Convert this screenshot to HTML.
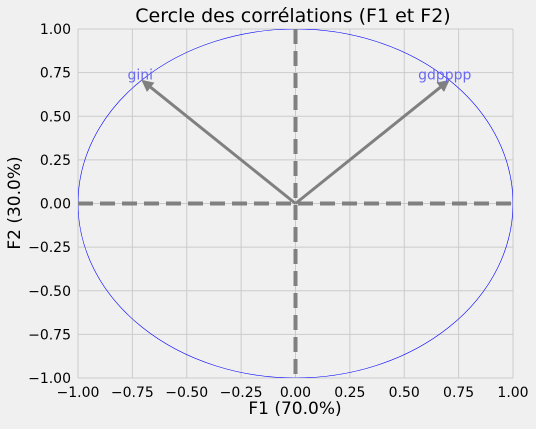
<!DOCTYPE html>
<html><head><meta charset="utf-8"><style>
html,body{margin:0;padding:0;background:#f0f0f0;}
svg text{font-family:"DejaVu Sans","Liberation Sans",sans-serif;}
</style></head><body>
<svg id="chart" width="536" height="424" xmlns="http://www.w3.org/2000/svg">
<rect width="536" height="424" fill="#f0f0f0"/>
<defs><clipPath id="clip"><rect x="78" y="29" width="435" height="349"/></clipPath>
<marker id="ah" viewBox="0 0 10 10" refX="8" refY="5" markerWidth="4" markerHeight="4" orient="auto"><path d="M0,0 L10,5 L0,10 z" fill="#808080"/></marker></defs>
<g id="grid"></g>
<g id="ticks"></g>
<g clip-path="url(#clip)" id="plot"></g>
<text x="293" y="22" font-size="19" text-anchor="middle" fill="#000">Cercle des corrélations (F1 et F2)</text>
<text x="295" y="414" font-size="17" text-anchor="middle" fill="#000">F1 (70.0%)</text>
<text x="20" y="203" font-size="17" text-anchor="middle" fill="#000" transform="rotate(-90 20 203)">F2 (30.0%)</text>
</svg>
<script>
const ticks=[-1,-0.75,-0.5,-0.25,0,0.25,0.5,0.75,1];
const tickLabels=["−1.00","−0.75","−0.50","−0.25","0.00","0.25","0.50","0.75","1.00"];
const varNames=["gini","gdpppp"];
const varX=[-0.70,0.70];
const varY=[0.70,0.70];
const NS="http://www.w3.org/2000/svg";
const X0=78,X1=513,Y0=378,Y1=29;
const sx=v=>X0+(v+1)/2*(X1-X0);
const sy=v=>Y0-(v+1)/2*(Y0-Y1);
function mk(t,a,p){const e=document.createElementNS(NS,t);for(const k in a)e.setAttribute(k,a[k]);p.appendChild(e);return e;}
const grid=document.getElementById('grid'),tk=document.getElementById('ticks'),plot=document.getElementById('plot');
ticks.forEach((t,i)=>{
 let l=mk('line',{x1:sx(t),x2:sx(t),y1:Y1,y2:Y0,stroke:'#cbcbcb','stroke-width':1},grid);
 
 l=mk('line',{x1:X0,x2:X1,y1:sy(t),y2:sy(t),stroke:'#cbcbcb','stroke-width':1},grid);
 
 let tx=mk('text',{x:sx(t),y:397,'font-size':14,'text-anchor':'middle'},tk);tx.textContent=tickLabels[i];
 
 tx=mk('text',{x:71,y:sy(t)+5,'font-size':14,'text-anchor':'end'},tk);tx.textContent=tickLabels[i];
 
});
let c=mk('ellipse',{cx:sx(0),cy:sy(0),rx:sx(1)-sx(0),ry:sy(0)-sy(1),fill:'none',stroke:'#0000ff','stroke-width':0.6},plot);

let d=mk('line',{x1:X0,x2:X1,y1:sy(0),y2:sy(0),stroke:'#808080','stroke-width':4,'stroke-dasharray':'15 7'},plot);

d=mk('line',{x1:sx(0),x2:sx(0),y1:Y1,y2:Y0,stroke:'#808080','stroke-width':4,'stroke-dasharray':'15 7'},plot);

varNames.forEach((n,i)=>{
 const a=mk('line',{x1:sx(0),y1:sy(0),x2:sx(varX[i]),y2:sy(varY[i]),stroke:'#808080','stroke-width':3,'marker-end':'url(#ah)'},plot);
 
 const t=mk('text',{x:sx(varX[i])-3,y:sy(varY[i])-2,'font-size':14,'text-anchor':'middle',fill:'#6a6af0'},plot);t.textContent=n;
 
});
</script>
</body></html>
